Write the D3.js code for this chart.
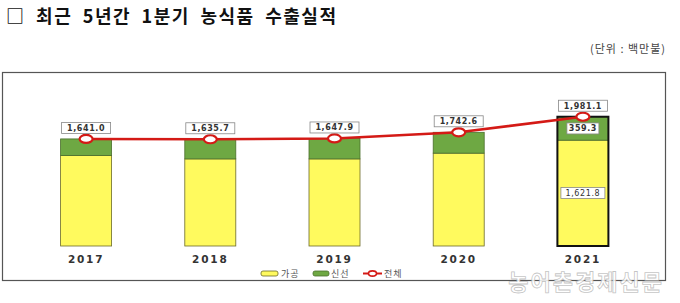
<!DOCTYPE html>
<html>
<head>
<meta charset="utf-8">
<script src="https://cdn.jsdelivr.net/npm/d3@7"></script>
<style>
  body { margin: 0; background: #fff; }
  svg { display: block; }
</style>
</head>
<body>
<div id="chart"></div>
<script>
// values (unit: million USD)
var years = ["2017", "2018", "2019", "2020", "2021"];
var processed = [1386.0, 1335.0, 1335.0, 1423.0, 1621.8];
var fresh = [255.0, 300.7, 312.9, 319.6, 359.3];
var total = [1641.0, 1635.7, 1647.9, 1742.6, 1981.1];
var totalLabels = ["1,641.0", "1,635.7", "1,647.9", "1,742.6", "1,981.1"];
var legendNames = ["가공", "신선", "전체"];

var W = 680, H = 303;
var yellow = "#fffa5e", green = "#6ea843", red = "#d41a16";
var numFont = "'DejaVu Sans', Verdana, sans-serif";
var krFont = "'Noto Sans CJK KR', sans-serif";

var svg = d3.select("#chart").append("svg")
  .attr("width", W).attr("height", H);

// title
svg.append("text")
  .attr("x", 6).attr("y", 23)
  .style("font-family", krFont)
  .style("font-weight", 700)
  .style("font-size", "18px")
  .style("letter-spacing", "1.5px")
  .style("word-spacing", "5px")
  .style("fill", "#111")
  .text("□ 최근 5년간 1분기 농식품 수출실적");

svg.append("text")
  .attr("x", 666).attr("y", 53)
  .attr("text-anchor", "end")
  .style("font-family", krFont)
  .style("font-size", "11px")
  .style("letter-spacing", "1px")
  .style("fill", "#444")
  .text("(단위 : 백만불)");

// frame
svg.append("rect")
  .attr("x", 2.5).attr("y", 72.5)
  .attr("width", 663).attr("height", 208)
  .attr("fill", "none")
  .attr("stroke", "#555")
  .attr("stroke-width", 1.2);

var x = d3.scalePoint().domain(years).range([24, 645]).padding(0.5);
var y = d3.scaleLinear().domain([0, 2000]).range([246, 115.5]);
var bw = 51;

var rows = years.map(function (d, i) {
  return { year: d, p: processed[i], f: fresh[i], t: total[i], label: totalLabels[i] };
});

// processed (bottom)
svg.selectAll("rect.proc").data(rows).enter().append("rect")
  .attr("class", "proc")
  .attr("x", function (d) { return x(d.year) - bw / 2; })
  .attr("y", function (d) { return y(d.p); })
  .attr("width", bw)
  .attr("height", function (d) { return y(0) - y(d.p); })
  .attr("fill", yellow)
  .attr("stroke", "#6b6a2a")
  .attr("stroke-width", 0.8);

// fresh (top)
svg.selectAll("rect.fresh").data(rows).enter().append("rect")
  .attr("class", "fresh")
  .attr("x", function (d) { return x(d.year) - bw / 2; })
  .attr("y", function (d) { return y(d.p + d.f); })
  .attr("width", bw)
  .attr("height", function (d) { return y(d.p) - y(d.p + d.f); })
  .attr("fill", green)
  .attr("stroke", "#4a6e2c")
  .attr("stroke-width", 0.8);

// thick outline on the latest year
var lastRow = rows[rows.length - 1];
svg.append("rect")
  .attr("x", x(lastRow.year) - bw / 2)
  .attr("y", y(lastRow.p + lastRow.f))
  .attr("width", bw)
  .attr("height", y(0) - y(lastRow.p + lastRow.f))
  .attr("fill", "none")
  .attr("stroke", "#111")
  .attr("stroke-width", 2);

// year labels
svg.selectAll("text.year").data(rows).enter().append("text")
  .attr("class", "year")
  .attr("x", function (d) { return x(d.year); })
  .attr("y", 263)
  .attr("text-anchor", "middle")
  .style("font-family", numFont)
  .style("font-weight", 700)
  .style("font-size", "10.5px")
  .style("letter-spacing", "1.8px")
  .style("fill", "#333")
  .text(function (d) { return d.year; });

// total line
var line = d3.line()
  .x(function (d) { return x(d.year); })
  .y(function (d) { return y(d.t); });

svg.append("path")
  .datum(rows)
  .attr("d", line)
  .attr("fill", "none")
  .attr("stroke", red)
  .attr("stroke-width", 2.5);

svg.selectAll("ellipse.mk").data(rows).enter().append("ellipse")
  .attr("class", "mk")
  .attr("cx", function (d) { return x(d.year); })
  .attr("cy", function (d) { return y(d.t); })
  .attr("rx", 6.5).attr("ry", 4)
  .attr("fill", "#fff")
  .attr("stroke", red)
  .attr("stroke-width", 2.2);

// value boxes
function valueBox(cx, cy, w, txt, bold) {
  svg.append("rect")
    .attr("x", cx - w / 2).attr("y", cy - 5.5)
    .attr("width", w).attr("height", 11)
    .attr("fill", "#fff")
    .attr("stroke", "#888")
    .attr("stroke-width", 0.8);
  svg.append("text")
    .attr("x", cx).attr("y", cy + 3)
    .attr("text-anchor", "middle")
    .style("font-family", numFont)
    .style("font-weight", bold ? 700 : 400)
    .style("font-size", "8px")
    .style("letter-spacing", "0.6px")
    .style("fill", "#333")
    .text(txt);
}

rows.forEach(function (d) {
  valueBox(x(d.year), y(d.t) - 11, 49, d.label, true);
});
valueBox(x(lastRow.year), y(lastRow.p + lastRow.f / 2), 32, d3.format(".1f")(lastRow.f), true);
valueBox(x(lastRow.year), y(lastRow.p / 2), 44, d3.format(",.1f")(lastRow.p), false);

// legend
var lg = svg.append("g").attr("transform", "translate(261,273.5)");
lg.append("rect").attr("x", 0).attr("y", -2.5).attr("width", 17).attr("height", 5)
  .attr("rx", 2).attr("fill", yellow).attr("stroke", "#6b6a2a").attr("stroke-width", 0.8);
lg.append("rect").attr("x", 52).attr("y", -2.5).attr("width", 16).attr("height", 5)
  .attr("rx", 2).attr("fill", green).attr("stroke", "#4a6e2c").attr("stroke-width", 0.8);
lg.append("line").attr("x1", 102).attr("x2", 121).attr("y1", 0).attr("y2", 0)
  .attr("stroke", red).attr("stroke-width", 2);
lg.append("ellipse").attr("cx", 111.5).attr("cy", 0).attr("rx", 4).attr("ry", 2.6)
  .attr("fill", "#fff").attr("stroke", red).attr("stroke-width", 1.6);
[20, 70, 123].forEach(function (lx, i) {
  lg.append("text")
    .attr("x", lx).attr("y", 3)
    .style("font-family", krFont)
    .style("font-size", "9px")
    .style("letter-spacing", "1px")
    .style("fill", "#555")
    .text(legendNames[i]);
});

// watermark
svg.append("text")
  .attr("x", 664).attr("y", 290)
  .attr("text-anchor", "end")
  .style("font-family", krFont)
  .style("font-weight", 700)
  .style("font-size", "22px")
  .style("letter-spacing", "2px")
  .style("fill", "#fff")
  .style("fill-opacity", 0.85)
  .style("stroke", "#aaa")
  .style("stroke-width", 0.8)
  .style("stroke-opacity", 0.7)
  .text("농어촌경제신문");
</script>
</body>
</html>
